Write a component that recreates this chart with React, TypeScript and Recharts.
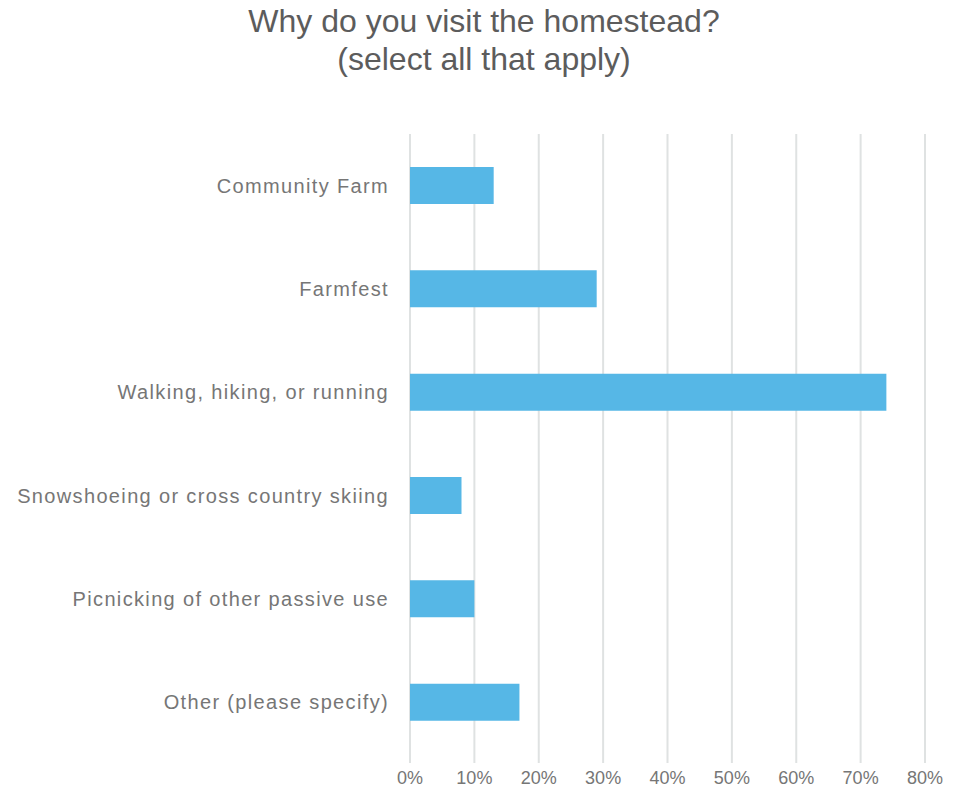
import React from 'react';
import { BarChart, Bar, XAxis, YAxis, CartesianGrid } from 'recharts';

const categories = [
  'Community Farm',
  'Farmfest',
  'Walking, hiking, or running',
  'Snowshoeing or cross country skiing',
  'Picnicking of other passive use',
  'Other (please specify)',
];
const values = [13, 29, 74, 8, 10, 17];
const xTicks = [0, 10, 20, 30, 40, 50, 60, 70, 80];
const titleLines = ['Why do you visit the homestead?', '(select all that apply)'];

const data = categories.map((c, i) => ({ name: c, value: values[i] }));

const FONT = '"Liberation Sans", Arial, Helvetica, sans-serif';

function CategoryTick(props: any) {
  const { x, y, payload } = props;
  return (
    <text
      x={x}
      y={y}
      dy="0.355em"
      textAnchor="end"
      fill="#767676"
      fontSize={20}
      fontFamily={FONT}
      style={{ letterSpacing: '1.35px' }}
    >
      {payload.value}
    </text>
  );
}

export default function App() {
  return (
    <div style={{ position: 'absolute', left: 0, top: 0, width: 959, height: 789, background: '#fff', fontFamily: FONT }}>
      <div
        style={{
          position: 'absolute',
          left: 0,
          top: 2,
          width: 968,
          textAlign: 'center',
          fontSize: 32,
          lineHeight: '38px',
          color: '#5c5c5c',
        }}
      >
        {titleLines.map((t) => (
          <div key={t}>{t}</div>
        ))}
      </div>
      <BarChart
        width={959}
        height={789}
        data={data}
        layout="vertical"
        margin={{ top: 134, right: 34, bottom: 0, left: 0 }}
        barCategoryGap={0}
      >
        <CartesianGrid horizontal={false} stroke="#dfe2e2" strokeWidth={2} />
        <XAxis
          type="number"
          domain={[0, 80]}
          ticks={xTicks}
          tickFormatter={(v) => `${v}%`}
          axisLine={false}
          tickLine={false}
          tickSize={0}
          tickMargin={8}
          height={26}
          interval={0}
          tick={{ fill: '#767676', fontSize: 18, fontFamily: FONT }}
        />
        <YAxis
          type="category"
          dataKey="name"
          width={410}
          axisLine={false}
          tickLine={false}
          tickSize={0}
          tickMargin={21}
          padding={{ top: 0, bottom: 9 }}
          interval={0}
          tick={<CategoryTick />}
        />
        <Bar dataKey="value" fill="#56b7e6" barSize={37} isAnimationActive={false} />
      </BarChart>
    </div>
  );
}
